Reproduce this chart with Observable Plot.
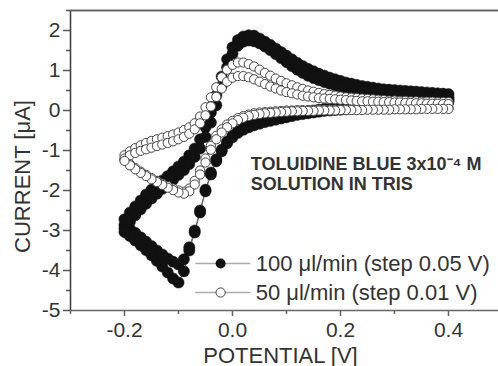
<!DOCTYPE html>
<html><head><meta charset="utf-8">
<script src="https://cdn.jsdelivr.net/npm/d3@7"></script>
<script src="https://cdn.jsdelivr.net/npm/@observablehq/plot@0.6"></script>
<style>
body{margin:0;background:#fff}
#chart svg{display:block}
</style>
</head><body><div id="chart"></div>
<script>
// Potential steps of one sweep (V)
const potentialUp = [-0.20,-0.19,-0.18,-0.17,-0.16,-0.15,-0.14,-0.13,-0.12,-0.11,-0.10,-0.09,-0.08,-0.07,-0.06,-0.05,-0.04,-0.03,-0.02,-0.01,
  0.00,0.01,0.02,0.03,0.04,0.05,0.06,0.07,0.08,0.09,0.10,0.11,0.12,0.13,0.14,0.15,0.16,0.17,0.18,0.19,0.20,
  0.21,0.22,0.23,0.24,0.25,0.26,0.27,0.28,0.29,0.30,0.31,0.32,0.33,0.34,0.35,0.36,0.37,0.38,0.39,0.40];
const potentialDown = potentialUp.slice().reverse();

// 100 µl/min series (filled), two cycles, currents in µA
const filledUpA = [-2.72,-2.55,-2.40,-2.25,-2.10,-1.98,-1.86,-1.75,-1.64,-1.52,-1.40,-1.28,-1.12,-0.95,-0.72,-0.42,-0.05,0.38,0.85,1.28,
  1.58,1.76,1.85,1.88,1.87,1.80,1.72,1.64,1.55,1.46,1.37,
  1.28,1.19,1.11,1.04,0.98,0.92,0.87,0.82,0.78,0.74,0.70,0.67,0.64,0.61,0.59,0.57,0.55,0.53,0.52,0.51,0.50,0.49,0.48,0.47,0.46,0.45,0.44,0.43,0.42,0.41];
const filledDownA = [0.27,0.26,0.25,0.24,0.23,0.22,0.21,0.20,0.19,0.18,0.17,0.16,0.15,0.14,0.13,0.12,0.11,0.10,0.09,0.08,0.07,0.06,0.05,0.04,0.02,0.00,-0.02,-0.04,-0.07,-0.10,
  -0.13,-0.16,-0.19,-0.22,-0.25,-0.29,-0.33,-0.38,-0.44,-0.52,-0.63,-0.78,-0.98,-1.22,-1.55,-1.98,-2.50,-3.00,-3.42,-3.72,-3.85,
  -3.78,-3.70,-3.60,-3.50,-3.39,-3.28,-3.17,-3.06,-2.96,-2.86];
const filledUpB = [-2.95,-2.78,-2.62,-2.47,-2.33,-2.20,-2.08,-1.96,-1.85,-1.73,-1.61,-1.49,-1.34,-1.16,-0.95,-0.66,-0.30,0.13,0.62,1.08,
  1.42,1.62,1.72,1.75,1.73,1.68,1.60,1.51,1.41,1.31,1.21,
  1.11,1.02,0.94,0.87,0.81,0.76,0.71,0.67,0.63,0.60,0.57,0.54,0.52,0.50,0.48,0.46,0.45,0.43,0.42,0.40,0.39,0.38,0.37,0.36,0.35,0.34,0.33,0.33,0.32,0.32];
const filledDownB = [0.22,0.21,0.20,0.19,0.18,0.17,0.16,0.15,0.14,0.13,0.12,0.11,0.10,0.09,0.08,0.07,0.06,0.05,0.04,0.03,0.02,0.01,0.00,-0.01,-0.03,-0.05,-0.07,-0.09,-0.11,-0.14,
  -0.17,-0.20,-0.23,-0.26,-0.29,-0.33,-0.37,-0.42,-0.48,-0.56,-0.67,-0.82,-1.02,-1.27,-1.60,-2.02,-2.55,-3.05,-3.50,-4.02,-4.30,
  -4.20,-4.05,-3.90,-3.76,-3.62,-3.49,-3.37,-3.25,-3.14,-3.04];

// 50 µl/min series (open), two cycles, currents in µA
const openUp1 = [-1.12,-1.02,-0.94,-0.87,-0.81,-0.76,-0.72,-0.68,-0.64,-0.60,-0.55,-0.49,-0.42,-0.32,-0.15,0.08,0.33,0.58,0.83,1.02,
  1.14,1.20,1.20,1.16,1.10,1.02,0.94,0.87,0.80,0.74,0.68,
  0.63,0.58,0.54,0.50,0.47,0.44,0.41,0.39,0.37,0.35,0.33,0.32,0.31,0.30,0.29,0.28,0.27,0.26,0.25,0.25,0.24,0.24,0.23,0.23,0.22,0.22,0.22,0.21,0.21,0.21];
const openDown1 = [0.06,0.06,0.06,0.06,0.06,0.05,0.05,0.05,0.05,0.05,0.04,0.04,0.04,0.04,0.04,0.03,0.03,0.03,0.03,0.03,0.02,0.02,0.02,0.02,0.02,0.01,0.01,0.01,0.01,0.00,
  0.00,-0.01,-0.02,-0.03,-0.04,-0.05,-0.07,-0.10,-0.14,-0.19,-0.26,-0.35,-0.47,-0.63,-0.88,-1.20,-1.50,-1.76,-1.95,-2.03,-2.00,
  -1.95,-1.89,-1.83,-1.76,-1.69,-1.61,-1.53,-1.44,-1.34,-1.23];
const openUp2 = [-1.20,-1.12,-1.06,-1.01,-0.97,-0.93,-0.89,-0.85,-0.81,-0.77,-0.72,-0.66,-0.58,-0.47,-0.32,-0.12,0.10,0.34,0.55,0.72,
  0.82,0.86,0.86,0.83,0.78,0.72,0.66,0.60,0.55,0.50,0.46,
  0.43,0.40,0.37,0.35,0.33,0.31,0.30,0.29,0.28,0.27,0.26,0.25,0.24,0.23,0.23,0.22,0.22,0.21,0.21,0.20,0.20,0.19,0.19,0.18,0.18,0.17,0.17,0.17,0.16,0.16];
const openDown2 = [0.04,0.04,0.04,0.04,0.04,0.04,0.03,0.03,0.03,0.03,0.03,0.02,0.02,0.02,0.02,0.02,0.01,0.01,0.01,0.01,0.01,0.00,0.00,0.00,0.00,-0.01,-0.01,-0.01,-0.02,-0.02,
  -0.03,-0.04,-0.05,-0.06,-0.07,-0.09,-0.11,-0.14,-0.18,-0.24,-0.32,-0.42,-0.55,-0.72,-0.98,-1.30,-1.60,-1.85,-2.02,-2.08,-2.05,
  -1.99,-1.93,-1.86,-1.79,-1.72,-1.64,-1.56,-1.47,-1.37,-1.26];

// Axis ticks and texts
const yTicks = [-5,-4,-3,-2,-1,0,1,2];
const yMinorTicks = [-4.5,-3.5,-2.5,-1.5,-0.5,0.5,1.5,2.5];
const xTicks = [-0.2,0.0,0.2,0.4];
const xMinorTicks = [-0.3,-0.1,0.1,0.3];
const xTitle = "POTENTIAL [V]";
const yTitle = "CURRENT [μA]";
const annotationLines = ["TOLUIDINE BLUE 3x10⁻⁴ M", "SOLUTION IN TRIS"];
const legendLabels = ["100 μl/min (step 0.05 V)", "50 μl/min (step 0.01 V)"];

function sweep(pots, cur) { return pots.map((v, i) => ({potential: v, current: cur[i]})); }
const filledRows = [...sweep(potentialUp, filledUpA), ...sweep(potentialDown, filledDownA),
                    ...sweep(potentialUp, filledUpB), ...sweep(potentialDown, filledDownB)];
const openRows = [...sweep(potentialUp, openUp1), ...sweep(potentialDown, openDown1),
                  ...sweep(potentialUp, openUp2), ...sweep(potentialDown, openDown2)];

const font = "'Liberation Sans', Arial, Helvetica, sans-serif";
const ink = "#333";

const chart = Plot.plot({
  width: 498, height: 366,
  marginLeft: 70, marginRight: 0, marginTop: 10, marginBottom: 56,
  x: {domain: [-0.3, 0.4926]},
  y: {domain: [-5, 2.5]},
  style: {fontFamily: font, background: "#fff", color: ink, overflow: "visible"},
  marks: [
    // axes
    Plot.axisY(yTicks, {tickSize: 7, tickPadding: 3, fontSize: 21, stroke: "#555", strokeWidth: 1.5, fill: ink, tickFormat: d => String(d), label: null}),
    Plot.axisY(yMinorTicks, {tickSize: 4, stroke: "#555", strokeWidth: 1.5, tickFormat: () => "", label: null}),
    Plot.axisX(xTicks, {tickSize: 6, tickPadding: 6, fontSize: 21, stroke: "#666", strokeWidth: 1.5, fill: ink, tickFormat: d => d.toFixed(1), label: null}),
    Plot.axisX(xMinorTicks, {tickSize: 4, stroke: "#666", strokeWidth: 1.5, tickFormat: () => "", label: null}),
    Plot.ruleX([-0.3], {stroke: "#444", strokeWidth: 1.6}),
    Plot.ruleY([-5], {stroke: "#666", strokeWidth: 1.6}),
    Plot.ruleY([2.5], {stroke: "#666", strokeWidth: 2}),
    // axis titles
    Plot.text([yTitle], {frameAnchor: "left", rotate: -90, dx: -48, dy: 16, fontSize: 22, fill: ink, textAnchor: "middle", lineAnchor: "middle"}),
    Plot.text([xTitle], {frameAnchor: "bottom", dy: 45, dx: -4, fontSize: 22, fill: ink, textAnchor: "middle", lineAnchor: "middle"}),
    // data: 100 µl/min
    Plot.line(filledRows, {x: "potential", y: "current", stroke: "#666", strokeWidth: 1}),
    Plot.dot(filledRows, {x: "potential", y: "current", r: 5.6, fill: "#111", stroke: "#111", strokeWidth: 0.5}),
    // data: 50 µl/min
    Plot.line(openRows, {x: "potential", y: "current", stroke: "#555", strokeWidth: 1}),
    Plot.dot(openRows, {x: "potential", y: "current", r: 4.6, fill: "#fff", stroke: "#444", strokeWidth: 1}),
    // annotation
    Plot.text([annotationLines.join("\n")], {x: 0.034, y: -1.12, textAnchor: "start", lineAnchor: "top", fontSize: 18, fontWeight: "bold", lineHeight: 1.13, fill: ink}),
    // legend
    Plot.ruleY([-3.825], {x1: -0.068, x2: 0.034, stroke: "#aaa", strokeWidth: 1.5}),
    Plot.dot([0], {x: -0.022, y: -3.825, r: 5, fill: "#111"}),
    Plot.text([legendLabels[0]], {x: 0.043, y: -3.825, textAnchor: "start", fontSize: 22, fill: ink}),
    Plot.ruleY([-4.55], {x1: -0.068, x2: 0.034, stroke: "#aaa", strokeWidth: 1.5}),
    Plot.dot([0], {x: -0.022, y: -4.55, r: 4.6, fill: "#fff", stroke: "#444", strokeWidth: 1}),
    Plot.text([legendLabels[1]], {x: 0.043, y: -4.55, textAnchor: "start", fontSize: 22, fill: ink})
  ]
});
document.getElementById("chart").appendChild(chart);
</script>
</body></html>
